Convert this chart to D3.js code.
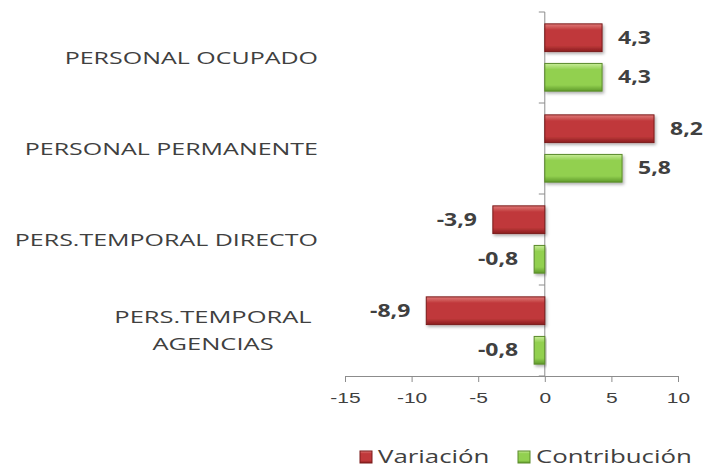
<!DOCTYPE html>
<html>
<head>
<meta charset="utf-8">
<script src="https://cdn.jsdelivr.net/npm/d3@7"></script>
<style>
  body { margin: 0; background: #fff; }
  svg { font-family: "Open Sans", sans-serif; }
</style>
</head>
<body>
<div id="chart"></div>
<script>
// data
var categories = ["PERSONAL OCUPADO", "PERSONAL PERMANENTE", "PERS.TEMPORAL DIRECTO", "PERS.TEMPORAL AGENCIAS"];
var seriesNames = ["Variación", "Contribución"];
var variacion = [4.3, 8.2, -3.9, -8.9];
var contribucion = [4.3, 5.8, -0.8, -0.8];
var xTicks = [-15, -10, -5, 0, 5, 10];

var svgWidth = 706, svgHeight = 468;
var margin = {top: 12, right: 28, bottom: 92, left: 345};
var width = svgWidth - margin.left - margin.right;
var height = svgHeight - margin.top - margin.bottom;

// the original text is drawn wide, so stretch it horizontally
function wide(x, y, k) {
  return `translate(${x}, ${y}) scale(${k}, 1)`;
}

var svg = d3.select("#chart").append("svg")
  .attr("width", svgWidth)
  .attr("height", svgHeight);

// gradients for the bevelled bars
var defs = svg.append("defs");
function bevel(id, light, mid, dark) {
  var g = defs.append("linearGradient").attr("id", id)
    .attr("x1", 0).attr("y1", 0).attr("x2", 0).attr("y2", 1);
  g.append("stop").attr("offset", "0%").attr("stop-color", light);
  g.append("stop").attr("offset", "22%").attr("stop-color", mid);
  g.append("stop").attr("offset", "78%").attr("stop-color", mid);
  g.append("stop").attr("offset", "100%").attr("stop-color", dark);
}
bevel("gradRed", "#e07a78", "#c0393b", "#8a1f1f");
bevel("gradGreen", "#c8ec98", "#92d050", "#5f9a2a");
var colors = {"Variación": "url(#gradRed)", "Contribución": "url(#gradGreen)"};
var strokes = {"Variación": "#7a1a1a", "Contribución": "#5a8a2a"};

var filt = defs.append("filter").attr("id", "shadow")
  .attr("x", "-10%").attr("y", "-20%").attr("width", "130%").attr("height", "160%");
filt.append("feDropShadow").attr("dx", 1.5).attr("dy", 2).attr("stdDeviation", 1.5)
  .attr("flood-color", "#000").attr("flood-opacity", 0.3);

var g = svg.append("g").attr("transform", `translate(${margin.left}, ${margin.top})`);

var xScale = d3.scaleLinear().domain([-15, 10]).range([0, width]);
var yScale = d3.scaleBand().domain(categories).range([0, height]);
var inner = d3.scaleBand().domain(seriesNames).range([0, yScale.bandwidth()])
  .paddingInner(0.3).paddingOuter(0.3);

var rows = [];
categories.forEach(function(c, i) {
  rows.push({cat: c, s: "Variación", v: variacion[i]});
  rows.push({cat: c, s: "Contribución", v: contribucion[i]});
});

function fmt(v) {
  return d3.format(".1f")(Math.abs(v)).replace(".", ",");
}

// x axis
var xAxis = g.append("g")
  .attr("transform", `translate(0, ${height})`)
  .call(d3.axisBottom(xScale).tickValues(xTicks).tickSize(6).tickSizeOuter(0));
xAxis.select(".domain").attr("stroke", "#8c8c8c");
xAxis.selectAll(".tick line").attr("stroke", "#8c8c8c");
xAxis.selectAll(".tick text")
  .attr("fill", "#404040")
  .style("font-size", "15px")
  .attr("y", 0).attr("dy", 0)
  .attr("transform", wide(0, 27, 1.4))
  .text(d => (d < 0 ? "-" : "") + Math.abs(d));

// vertical category axis at zero
var yAxis = g.append("g")
  .attr("transform", `translate(${xScale(0)}, 0)`);
yAxis.append("line").attr("y1", 0).attr("y2", height).attr("stroke", "#8c8c8c");
yAxis.selectAll("line.tk")
  .data(d3.range(categories.length + 1))
  .enter().append("line").attr("class", "tk")
  .attr("x1", -6).attr("x2", 0)
  .attr("y1", d => d * yScale.step())
  .attr("y2", d => d * yScale.step())
  .attr("stroke", "#8c8c8c");

// bars
g.selectAll("rect.bar")
  .data(rows)
  .enter().append("rect").attr("class", "bar")
  .attr("x", d => xScale(Math.min(0, d.v)))
  .attr("width", d => Math.abs(xScale(d.v) - xScale(0)))
  .attr("y", d => yScale(d.cat) + inner(d.s))
  .attr("height", inner.bandwidth())
  .attr("fill", d => colors[d.s])
  .attr("stroke", d => strokes[d.s])
  .attr("stroke-width", 1)
  .attr("filter", "url(#shadow)");

// value labels
g.selectAll("text.val")
  .data(rows)
  .enter().append("text").attr("class", "val")
  .attr("transform", d => wide(
    d.v >= 0 ? xScale(d.v) + 16 : xScale(d.v) - 16,
    yScale(d.cat) + inner(d.s) + inner.bandwidth() / 2 + 6, 1.35))
  .attr("text-anchor", d => d.v >= 0 ? "start" : "end")
  .style("font-size", "17px")
  .style("font-weight", "bold")
  .attr("fill", "#404040")
  .text(d => (d.v < 0 ? "-" : "") + fmt(d.v));

// category labels
var catText = svg.selectAll("text.cat")
  .data(categories)
  .enter().append("text").attr("class", "cat")
  .attr("fill", "#404040")
  .style("font-size", "17px");
catText.each(function(d) {
  var t = d3.select(this);
  var cy = margin.top + yScale(d) + yScale.bandwidth() / 2;
  if (d === "PERS.TEMPORAL AGENCIAS") {
    t.attr("text-anchor", "middle").attr("transform", wide(213, cy, 1.5));
    t.append("tspan").attr("x", 0).attr("y", -8).text("PERS.TEMPORAL");
    t.append("tspan").attr("x", 0).attr("y", 20).text("AGENCIAS");
  } else {
    t.attr("text-anchor", "end").attr("transform", wide(318, cy + 6, 1.47)).text(d);
  }
});

// legend
var legend = svg.append("g").attr("transform", "translate(360, 463)");
var legX = [0, 158];
seriesNames.forEach(function(s, i) {
  var lg = legend.append("g").attr("transform", `translate(${legX[i]}, 0)`);
  lg.append("rect").attr("x", 0).attr("y", -12).attr("width", 12).attr("height", 12)
    .attr("fill", colors[s]).attr("stroke", strokes[s]);
  lg.append("text").attr("transform", wide(18, 0, 1.36))
    .attr("fill", "#404040").style("font-size", "19px").text(s);
});
</script>
</body>
</html>
